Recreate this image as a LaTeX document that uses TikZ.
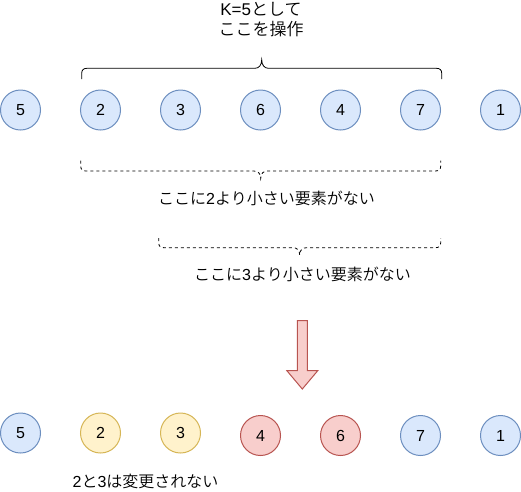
\documentclass[tikz,border=0pt]{standalone}
\usepackage{fontspec}
\setmainfont{Liberation Sans}
\newfontfamily\jp{Noto Sans CJK JP DemiLight}
\definecolor{bfill}{HTML}{DAE8FC}\definecolor{bline}{HTML}{6C8EBF}
\definecolor{yfill}{HTML}{FFF2CC}\definecolor{yline}{HTML}{D6B656}
\definecolor{rfill}{HTML}{F8CECC}\definecolor{rline}{HTML}{B85450}
\begin{document}
\begin{tikzpicture}[x=1pt,y=-1pt,
  cell/.style={circle,line width=1pt,minimum size=40pt,inner sep=0pt,font=\fontsize{16}{19}\selectfont},
  bluecell/.style={cell,fill=bfill,draw=bline},
  yellowcell/.style={cell,fill=yfill,draw=yline},
  redcell/.style={cell,fill=rfill,draw=rline},
  lbl/.style={inner sep=0pt,font=\fontsize{16}{20}\selectfont},
  brace/.style={line width=0.8pt,draw=black},
  dbrace/.style={brace,dash pattern=on 3pt off 3pt},
  blockarrow/.style={fill=rfill,draw=rline,line width=1pt}
]
\useasboundingbox[fill=white] (0,0) rectangle (521,491);

% top row
\node[bluecell] (t1) at (20.5,110) {5};
\node[bluecell] (t2) at (100.5,110) {2};
\node[bluecell] (t3) at (180.5,110) {3};
\node[bluecell] (t4) at (260.5,110) {6};
\node[bluecell] (t5) at (340.5,110) {4};
\node[bluecell] (t6) at (420.5,110) {7};
\node[bluecell] (t7) at (500.5,110) {1};

% bottom row
\node[bluecell] (b1) at (20.5,433) {5};
\node[yellowcell] (b2) at (100.5,433) {2};
\node[yellowcell] (b3) at (180.5,433) {3};
\node[redcell] (b4) at (260.5,435.5) {4};
\node[redcell] (b5) at (340.5,435.5) {6};
\node[bluecell] (b6) at (420.5,435.5) {7};
\node[bluecell] (b7) at (500.5,435.5) {1};

% labels
\node[lbl,align=center,font=\fontsize{17}{20}\selectfont] (title) at (261,20) {K=5{\jp として}\\{\jp ここを操作}};
\node[lbl] (lab1) at (266.5,198) {{\jp ここに}2{\jp より小さい要素がない}};
\node[lbl] (lab2) at (302.5,274) {{\jp ここに}3{\jp より小さい要素がない}};
\node[lbl] (lab3) at (145.5,481) {2{\jp と}3{\jp は変更されない}};

% top brace (solid)
\draw[brace] (81.7,79) -- (81.7,73.3) .. controls (81.7,70) and (83.5,68.3) .. (87,68.3)
  -- (255,68.3) .. controls (259,68.3) and (261.7,65) .. (261.7,59.7)
  .. controls (261.7,65) and (264.4,68.3) .. (268.4,68.3)
  -- (436.4,68.3) .. controls (439.9,68.3) and (441.7,70) .. (441.7,73.3) -- (441.7,79);

% dashed brace 1
\draw[dbrace] (80.7,160.7) -- (80.7,166) .. controls (80.7,169.5) and (82.5,171) .. (86,171)
  -- (253.7,171) .. controls (257.7,171) and (260.7,173) .. (260.7,178.5)
  .. controls (260.7,173) and (263.7,171) .. (267.7,171)
  -- (435.4,171) .. controls (438.9,171) and (440.7,169.5) .. (440.7,166) -- (440.7,160.7);

% dashed brace 2
\draw[dbrace] (158.7,238) -- (158.7,242.7) .. controls (158.7,246.2) and (160.5,247.7) .. (164,247.7)
  -- (292.7,247.7) .. controls (296.7,247.7) and (299.7,249.7) .. (299.7,255)
  .. controls (299.7,249.7) and (302.7,247.7) .. (306.7,247.7)
  -- (435.4,247.7) .. controls (438.9,247.7) and (440.7,246.2) .. (440.7,242.7) -- (440.7,238);

% block arrow
\draw[blockarrow] (297.3,320.7) -- (307.3,320.7) -- (307.3,370.7) -- (317.7,370.7)
  -- (302.3,389) -- (286.9,370.7) -- (297.3,370.7) -- cycle;
\end{tikzpicture}
\end{document}
